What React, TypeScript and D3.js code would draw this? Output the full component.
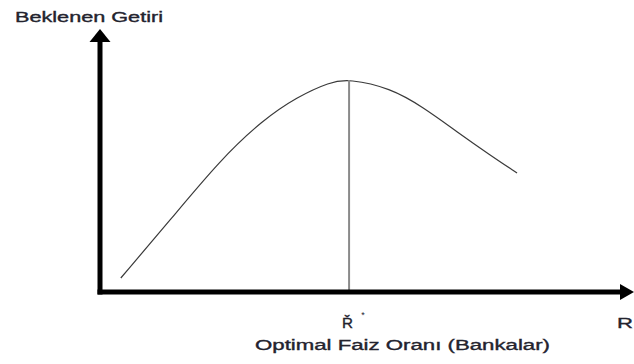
import React from "react";
import * as d3 from "d3";

const W = 634;
const H = 364;

// curve: expected return vs interest rate (abstract units 0..100)
const curveX = [4.0, 13.5, 23.1, 31.3, 37.9, 44.2, 47.9, 55.8, 62.1, 68.7, 75.0, 80.2];
const curveY = [5.6, 28.8, 52.8, 68.8, 78.0, 84.0, 85.2, 81.6, 74.0, 64.0, 54.8, 47.6];
const optimalX = 47.9;
const optimalY = 85.2;

const yAxisTitle = "Beklenen Getiri";
const xAxisTitle = "Optimal Faiz Oranı (Bankalar)";
const optimalLabel = "Ř";
const optimalSup = "*";
const xEndLabel = "R";

export default function App() {
  const x = d3.scaleLinear().domain([0, 100]).range([100, 620]);
  const y = d3.scaleLinear().domain([0, 100]).range([292, 42]);
  const pts: [number, number][] = curveX.map((v, i) => [x(v), y(curveY[i])]);
  const line = d3.line().curve(d3.curveBasis);
  const font = "'Liberation Sans', Arial, sans-serif";
  const x0 = x(0);
  const y0 = y(0);
  const txt = "#23232e";
  return (
    <svg
      width={W}
      height={H}
      style={{ position: "absolute", left: 0, top: 0, background: "#fff" }}
    >
      {/* curve */}
      <path d={line(pts) || ""} fill="none" stroke="#3a3a3a" strokeWidth={1.2} />
      {/* optimal vertical line */}
      <line
        x1={x(optimalX)}
        x2={x(optimalX)}
        y1={y(optimalY) + 1}
        y2={y0}
        stroke="#8a8a8a"
        strokeWidth={2}
      />
      {/* y axis */}
      <line x1={x0} x2={x0} y1={y0 + 2.5} y2={y(100) - 2} stroke="#000" strokeWidth={5} />
      <path d={`M ${x0 - 10.5} ${y(100)} L ${x0} 29 L ${x0 + 10.5} ${y(100)} Z`} fill="#000" />
      {/* x axis */}
      <line x1={x0 - 2.5} x2={621} y1={y0} y2={y0} stroke="#000" strokeWidth={5} />
      <path d={`M 620 ${y0 - 8} L 634 ${y0} L 620 ${y0 + 8} Z`} fill="#000" />
      {/* labels */}
      <text
        x={15}
        y={22}
        fontFamily={font}
        fontSize={14}
        fill={txt}
        stroke={txt}
        strokeWidth={0.35}
        textLength={148}
        lengthAdjust="spacingAndGlyphs"
      >
        {yAxisTitle}
      </text>
      <text
        x={342}
        y={328}
        fontFamily={font}
        fontSize={14}
        fill={txt}
        stroke={txt}
        strokeWidth={0.35}
        textLength={11}
        lengthAdjust="spacingAndGlyphs"
      >
        {optimalLabel}
      </text>
      <text
        x={x(optimalX) + 14}
        y={318}
        fontFamily={font}
        fontSize={9}
        fill={txt}
        textAnchor="middle"
      >
        {optimalSup}
      </text>
      <text
        x={617}
        y={328}
        fontFamily={font}
        fontSize={14}
        fill={txt}
        stroke={txt}
        strokeWidth={0.35}
        textLength={16}
        lengthAdjust="spacingAndGlyphs"
      >
        {xEndLabel}
      </text>
      <text
        x={255}
        y={350}
        fontFamily={font}
        fontSize={14}
        fill={txt}
        stroke={txt}
        strokeWidth={0.35}
        textLength={295}
        lengthAdjust="spacingAndGlyphs"
      >
        {xAxisTitle}
      </text>
    </svg>
  );
}
